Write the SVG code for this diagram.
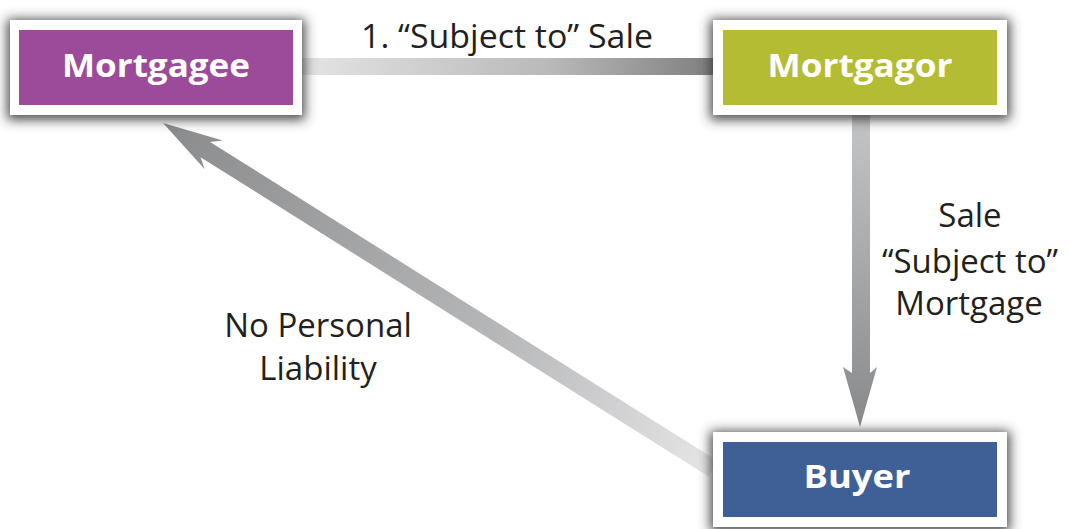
<svg xmlns="http://www.w3.org/2000/svg" width="1071" height="529" viewBox="0 0 1071 529">
<style>
.frame{fill:#ffffff;filter:url(#sh)}
.ntext{font-family:"Open Sans","Liberation Sans",sans-serif;font-weight:bold;font-size:33px;fill:#ffffff;text-anchor:middle}
.lbl{font-family:"Open Sans","Liberation Sans",sans-serif;font-size:33px;fill:#231f20;text-anchor:middle}
</style>
<defs>
<filter id="sh" x="-20%" y="-40%" width="140%" height="180%">
<feMorphology in="SourceAlpha" operator="dilate" radius="3" result="d"/>
<feGaussianBlur in="d" stdDeviation="6"/>
<feOffset dx="0" dy="2" result="b"/>
<feFlood flood-color="#3a3a3a" flood-opacity="0.9"/>
<feComposite in2="b" operator="in"/>
<feMerge><feMergeNode/><feMergeNode in="SourceGraphic"/></feMerge>
</filter>
<linearGradient id="gH" x1="0" y1="0" x2="1" y2="0">
<stop offset="0" stop-color="#e4e4e4"/>
<stop offset="0.6" stop-color="#b8b9bb"/>
<stop offset="1" stop-color="#7d7e80"/>
</linearGradient>
<linearGradient id="gV" x1="0" y1="0" x2="0" y2="1">
<stop offset="0" stop-color="#c4c5c7"/>
<stop offset="1" stop-color="#88898b"/>
</linearGradient>
<linearGradient id="gD" x1="0" y1="0" x2="1" y2="0">
<stop offset="0" stop-color="#8a8b8d"/>
<stop offset="0.6" stop-color="#b5b6b8"/>
<stop offset="1" stop-color="#e6e6e7"/>
</linearGradient>
</defs>
<g id="connectors">
<rect x="300" y="58" width="416" height="17" fill="url(#gH)"/>
<polygon points="852,115 870,115 870,373 877,367 860,427 843,367 852,373" fill="url(#gV)"/>
<g transform="translate(163,123) rotate(32.15)">
<polygon points="0,0 60,-17 50,-9 650,-9 650,9 50,9 60,17" fill="url(#gD)"/>
</g>
<text class="lbl" x="507" y="48" textLength="292" lengthAdjust="spacingAndGlyphs">1. “Subject to” Sale</text>
<text class="lbl" x="970" y="227">Sale</text>
<text class="lbl" x="970" y="273">“Subject to”</text>
<text class="lbl" x="969" y="315">Mortgage</text>
<text class="lbl" x="318" y="337">No Personal</text>
<text class="lbl" x="318" y="380">Liability</text>
</g>
<g id="mortgagee">
<rect class="frame" x="10" y="20" width="292" height="95"/>
<rect x="19" y="30" width="274" height="75" fill="#9c4b9b"/>
<text class="ntext" x="156" y="77" textLength="188" lengthAdjust="spacingAndGlyphs">Mortgagee</text>
</g>
<g id="mortgagor">
<rect class="frame" x="713" y="20" width="294" height="95"/>
<rect x="723" y="30" width="274" height="75" fill="#b4bc34"/>
<text class="ntext" x="860" y="77" textLength="185" lengthAdjust="spacingAndGlyphs">Mortgagor</text>
</g>
<g id="buyer">
<rect class="frame" x="713" y="432" width="294" height="95"/>
<rect x="723" y="442" width="274" height="75" fill="#3f6096"/>
<text class="ntext" x="857" y="488" textLength="107" lengthAdjust="spacingAndGlyphs">Buyer</text>
</g>
</svg>
